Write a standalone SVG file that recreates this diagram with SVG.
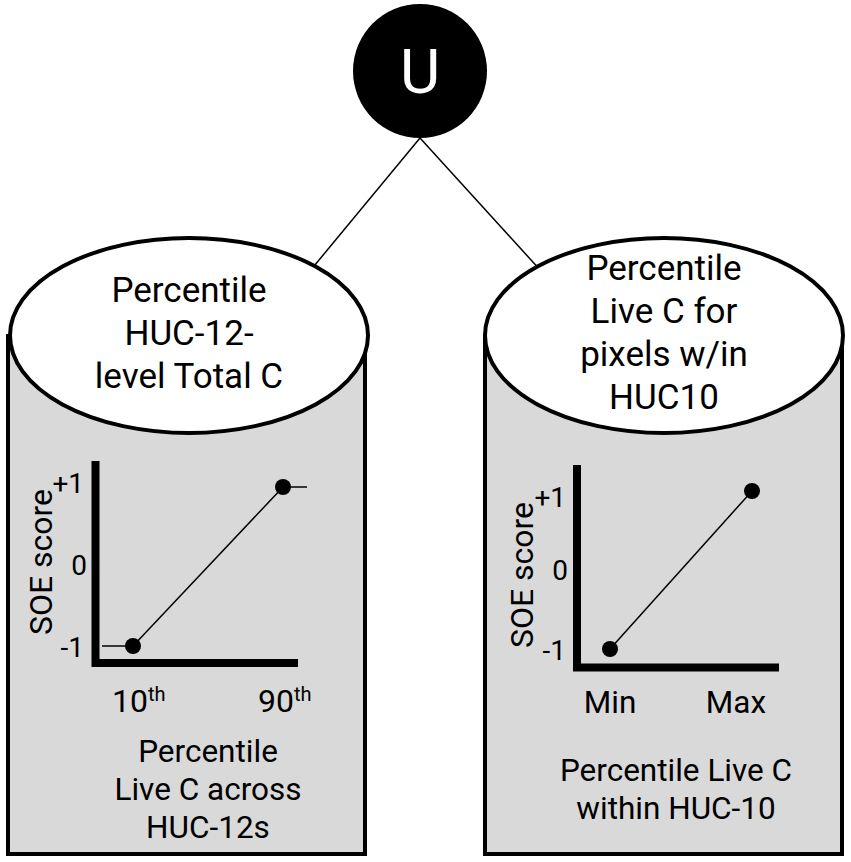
<svg xmlns="http://www.w3.org/2000/svg" width="851" height="862" viewBox="0 0 851 862">
<style>
text{font-family:Roboto,"Liberation Sans",sans-serif;fill:#000}
.box{fill:#d9d9d9;stroke:#000;stroke-width:4}
.ell{fill:#fff;stroke:#000;stroke-width:4}
.t{font-size:35px;text-anchor:middle}
.b{font-size:31.5px;text-anchor:middle}
.tick{font-size:28px;text-anchor:end}
.ax{stroke:#000;stroke-width:8;fill:none}
.thin{stroke:#000;stroke-width:1.5;fill:none}
.soe{font-size:32px;text-anchor:middle}
</style>
<g id="connectors">
<line x1="420" y1="138" x2="300" y2="283" stroke="#000" stroke-width="1.5"/>
<line x1="420" y1="138" x2="552" y2="283" stroke="#000" stroke-width="1.5"/>
</g>
<g id="left">
<rect class="box" x="8" y="336" width="357" height="518"/>
<ellipse class="ell" cx="189" cy="335.5" rx="179" ry="97.5"/>
<text class="t" x="189" y="302">Percentile</text>
<text class="t" x="189" y="345">HUC-12-</text>
<text class="t" x="189" y="388">level Total C</text>
<path class="ax" d="M95.5,461 V663 H298"/>
<line class="thin" x1="133" y1="646" x2="283" y2="487"/>
<line class="thin" x1="102" y1="646" x2="133" y2="646"/>
<line class="thin" x1="283" y1="487" x2="307" y2="487"/>
<circle cx="133" cy="646" r="8"/>
<circle cx="283" cy="487" r="8"/>
<text class="tick" x="84" y="493">+1</text>
<text class="tick" x="87" y="575">0</text>
<text class="tick" x="84" y="657">-1</text>
<text class="soe" transform="translate(52,562) rotate(-90)">SOE score</text>
<text x="112" y="712" font-size="32">10<tspan font-size="20" dy="-11">th</tspan></text>
<text x="258" y="712" font-size="32">90<tspan font-size="20" dy="-11">th</tspan></text>
<text class="b" x="208" y="762">Percentile</text>
<text class="b" x="208" y="800">Live C across</text>
<text class="b" x="208" y="838">HUC-12s</text>
</g>
<g id="right">
<rect class="box" x="485" y="336" width="357" height="518"/>
<ellipse class="ell" cx="664" cy="335.5" rx="179" ry="97.5"/>
<text class="t" x="664" y="280">Percentile</text>
<text class="t" x="664" y="323">Live C for</text>
<text class="t" x="664" y="366">pixels w/in</text>
<text class="t" x="664" y="409">HUC10</text>
<path class="ax" d="M577,465 V667.5 H779"/>
<line class="thin" x1="610" y1="649" x2="752" y2="491"/>
<circle cx="610" cy="649" r="8"/>
<circle cx="752" cy="491" r="8"/>
<text class="tick" x="566" y="507">+1</text>
<text class="tick" x="568" y="580">0</text>
<text class="tick" x="566" y="660">-1</text>
<text class="soe" transform="translate(533,575) rotate(-90)">SOE score</text>
<text class="b" x="610" y="713">Min</text>
<text class="b" x="736" y="713">Max</text>
<text class="b" x="676" y="781">Percentile Live C</text>
<text class="b" x="676" y="819">within HUC-10</text>
</g>
<g id="U">
<circle cx="420" cy="71" r="67" fill="#000"/>
<text x="420" y="93" font-size="62" text-anchor="middle" style="fill:#fff">U</text>
</g>
</svg>
